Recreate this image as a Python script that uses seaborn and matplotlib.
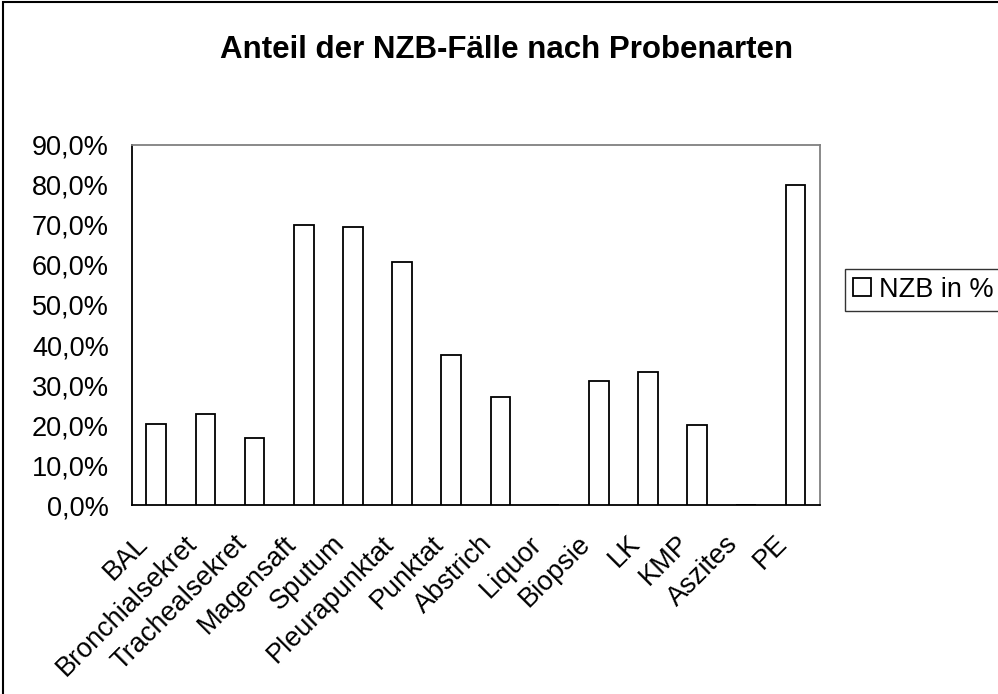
import matplotlib.pyplot as plt
import matplotlib.patches as mpatches
from matplotlib.ticker import FuncFormatter, MultipleLocator
from matplotlib.transforms import ScaledTranslation
import numpy as np
import pandas as pd
import seaborn as sns

# Probenarten und Anteil NZB (%)
probenarten = ["BAL", "Bronchialsekret", "Trachealsekret", "Magensaft", "Sputum",
               "Pleurapunktat", "Punktat", "Abstrich", "Liquor", "Biopsie",
               "LK", "KMP", "Aszites", "PE"]
nzb_prozent = [20.3, 22.8, 16.7, 70.0, 69.5, 60.6, 37.5, 27.1, 0.0, 30.9,
               33.3, 20.1, 0.0, 80.0]
serie = "NZB in %"
titel = "Anteil der NZB-Fälle nach Probenarten"

df = pd.DataFrame({"Probenart": probenarten, "NZB": nzb_prozent})

sns.set_style("white")
plt.rcParams['font.family'] = ['Liberation Sans', 'DejaVu Sans']
plt.rcParams['text.color'] = 'black'
plt.rcParams['xtick.color'] = 'black'
plt.rcParams['ytick.color'] = 'black'
plt.rcParams['axes.labelcolor'] = 'black'

fig = plt.figure(figsize=(9.98, 6.94), dpi=100)
ax = fig.add_axes([0.132, 0.2719, 0.8216 - 0.132, 0.7915 - 0.2719])

sns.barplot(data=df, x="Probenart", y="NZB", color="white", edgecolor="black",
            linewidth=1.3, width=0.4, ax=ax, zorder=3)

ax.set_xlim(-0.5, len(probenarten) - 0.5)
ax.set_ylim(0, 90)
ax.yaxis.set_major_locator(MultipleLocator(10))
ax.yaxis.set_major_formatter(FuncFormatter(lambda v, p: f"{v:.1f}%".replace(".", ",")))

# Achsen im Excel-Stil
for s in ["top", "right"]:
    ax.spines[s].set_color("#808080")
    ax.spines[s].set_linewidth(1.3)
for s in ["left", "bottom"]:
    ax.spines[s].set_color("black")
    ax.spines[s].set_linewidth(1.3)

ax.set_xticks(np.arange(-0.5, len(probenarten), 1), minor=True)
ax.tick_params(axis="x", which="major", length=0, pad=28.5)
ax.tick_params(axis="x", which="minor", length=6, width=1.2, color="#404040", direction="out")
ax.tick_params(axis="y", length=6, width=1.2, color="black", direction="out",
               labelsize=19.5, pad=10.5)
ax.set_xticks(range(len(probenarten)))
ax.set_xticklabels(probenarten, rotation=45, ha="right", va="baseline",
                   rotation_mode="anchor", fontsize=19.5)
shift = ScaledTranslation(-7 / 100, 0, fig.dpi_scale_trans)
for lbl in ax.get_xticklabels():
    lbl.set_transform(lbl.get_transform() + shift)
ax.set_xlabel("")
ax.set_ylabel("")

fig.text(0.508, 0.916, titel, ha="center", va="baseline", fontsize=22.5, fontweight="bold")

handle = mpatches.Patch(facecolor="white", edgecolor="black", linewidth=1.3, label=serie)
fig.legend(handles=[handle], loc="center left", bbox_to_anchor=(0.847, 0.5826),
           fontsize=19.5, frameon=True, fancybox=False, edgecolor="black",
           handlelength=0.65, handleheight=0.65, handletextpad=0.3,
           borderpad=0.3, borderaxespad=0)

# Rahmen um das ganze Diagramm
frame = mpatches.Rectangle((0.0027, -0.1), 1.2, 1.1 - 0.003, transform=fig.transFigure,
                           fill=False, edgecolor="black", linewidth=1.5, clip_on=False)
fig.patches.append(frame)

fig.savefig("out.png", dpi=100)
